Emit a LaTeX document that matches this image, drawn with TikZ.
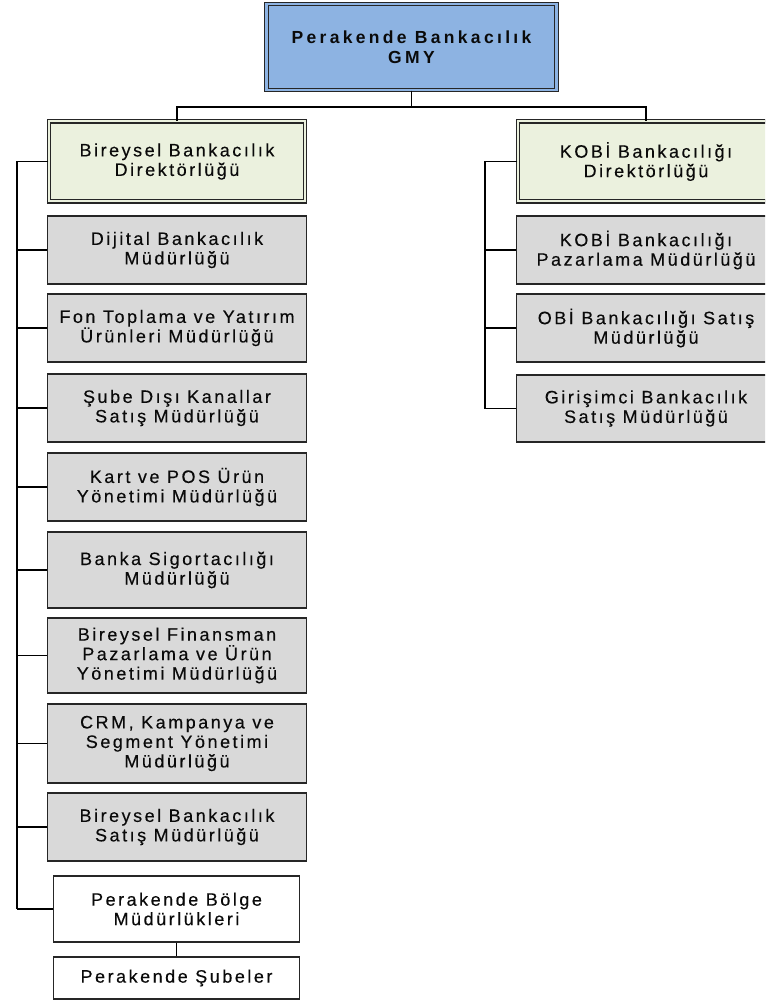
\documentclass[tikz,border=0pt]{standalone}
\usepackage{fontspec}
\setmainfont{Liberation Sans}[LetterSpace=14,FakeBold=0.3]
\newfontfamily\topfont{Liberation Sans Bold}[LetterSpace=19]
\definecolor{topblue}{HTML}{8DB3E2}
\definecolor{dirgreen}{HTML}{EBF1DE}
\definecolor{mgray}{HTML}{D9D9D9}
\definecolor{txt}{HTML}{0A0A0A}
\tikzset{
  base/.style={draw=black!85, line width=1.3pt, inner sep=0pt, align=center, text=txt,
    font=\fontsize{18}{19.5}\selectfont},
  topbox/.style={base, fill=topblue, double=topblue, double distance=2.5pt, line width=1.2pt,
    minimum width=290pt, minimum height=86pt, font=\fontsize{17.5}{20}\topfont},
  dirbox/.style={base, fill=dirgreen, double=dirgreen, double distance=2pt, line width=1.1pt,
    minimum width=256pt, minimum height=80pt},
  mgrbox/.style={base, fill=mgray, minimum width=259pt},
  whitebox/.style={base, fill=white, minimum width=246pt},
  conn/.style={draw=black, line width=1.3pt}
}
\begin{document}
\begin{tikzpicture}[x=1pt,y=-1pt]
\clip (0,0) rectangle (765,1000);
\fill[white] (0,0) rectangle (765,1000);
% top
\node[topbox] (gmy) at (411.5,47) {Perakende Bankacılık\\GMY};
% directorates
\node[dirbox] (bir) at (177,161.5) {Bireysel Bankacılık\\Direktörlüğü};
\node[dirbox] (kobi) at (646,161.5) {KOBİ Bankacılığı\\Direktörlüğü};
% left column
\node[mgrbox, minimum height=68pt] (dij) at (177,250) {Dijital Bankacılık\\Müdürlüğü};
\node[mgrbox, minimum height=68pt] (fon) at (177,328) {Fon Toplama ve Yatırım\\Ürünleri Müdürlüğü};
\node[mgrbox, minimum height=68pt] (sube) at (177,408) {Şube Dışı Kanallar\\Satış Müdürlüğü};
\node[mgrbox, minimum height=68pt] (kart) at (177,487) {Kart ve POS Ürün\\Yönetimi Müdürlüğü};
\node[mgrbox, minimum height=76pt] (sig) at (177,570) {Banka Sigortacılığı\\Müdürlüğü};
\node[mgrbox, minimum height=75pt] (fin) at (177,655.5) {Bireysel Finansman\\Pazarlama ve Ürün\\Yönetimi Müdürlüğü};
\node[mgrbox, minimum height=79pt] (crm) at (177,743.5) {CRM, Kampanya ve\\Segment Yönetimi\\Müdürlüğü};
\node[mgrbox, minimum height=68pt] (bbs) at (177,827) {Bireysel Bankacılık\\Satış Müdürlüğü};
\node[whitebox, minimum height=66pt] (bolge) at (176.5,909) {Perakende Bölge\\Müdürlükleri};
\node[whitebox, minimum height=42pt] (subeler) at (176.5,978) {Perakende Şubeler};
% right column
\node[mgrbox, minimum height=68pt] (kpaz) at (646,250) {KOBİ Bankacılığı\\Pazarlama Müdürlüğü};
\node[mgrbox, minimum height=68pt] (obi) at (646,328) {OBİ Bankacılığı Satış\\Müdürlüğü};
\node[mgrbox, minimum height=67pt] (gir) at (646,408.5) {Girişimci Bankacılık\\Satış Müdürlüğü};
% connectors
\coordinate (hub) at (411.5,107);
\draw[conn] (gmy.south) -- (hub);
\draw[conn] (bir.north) |- (hub) -| (kobi.north);
\coordinate (ls) at (17,0);
\coordinate (rs) at (485,0);
\foreach \n in {bir,dij,fon,sube,kart,sig,fin,crm,bbs,bolge}{
  \draw[conn] (\n.west) -- (ls |- \n.west);
}
\draw[conn] (ls |- bir.west) -- (ls |- bolge.west);
\foreach \n in {kobi,kpaz,obi,gir}{
  \draw[conn] (\n.west) -- (rs |- \n.west);
}
\draw[conn] (rs |- kobi.west) -- (rs |- gir.west);
\draw[conn] (bolge.south) -- (subeler.north);
\end{tikzpicture}
\end{document}
